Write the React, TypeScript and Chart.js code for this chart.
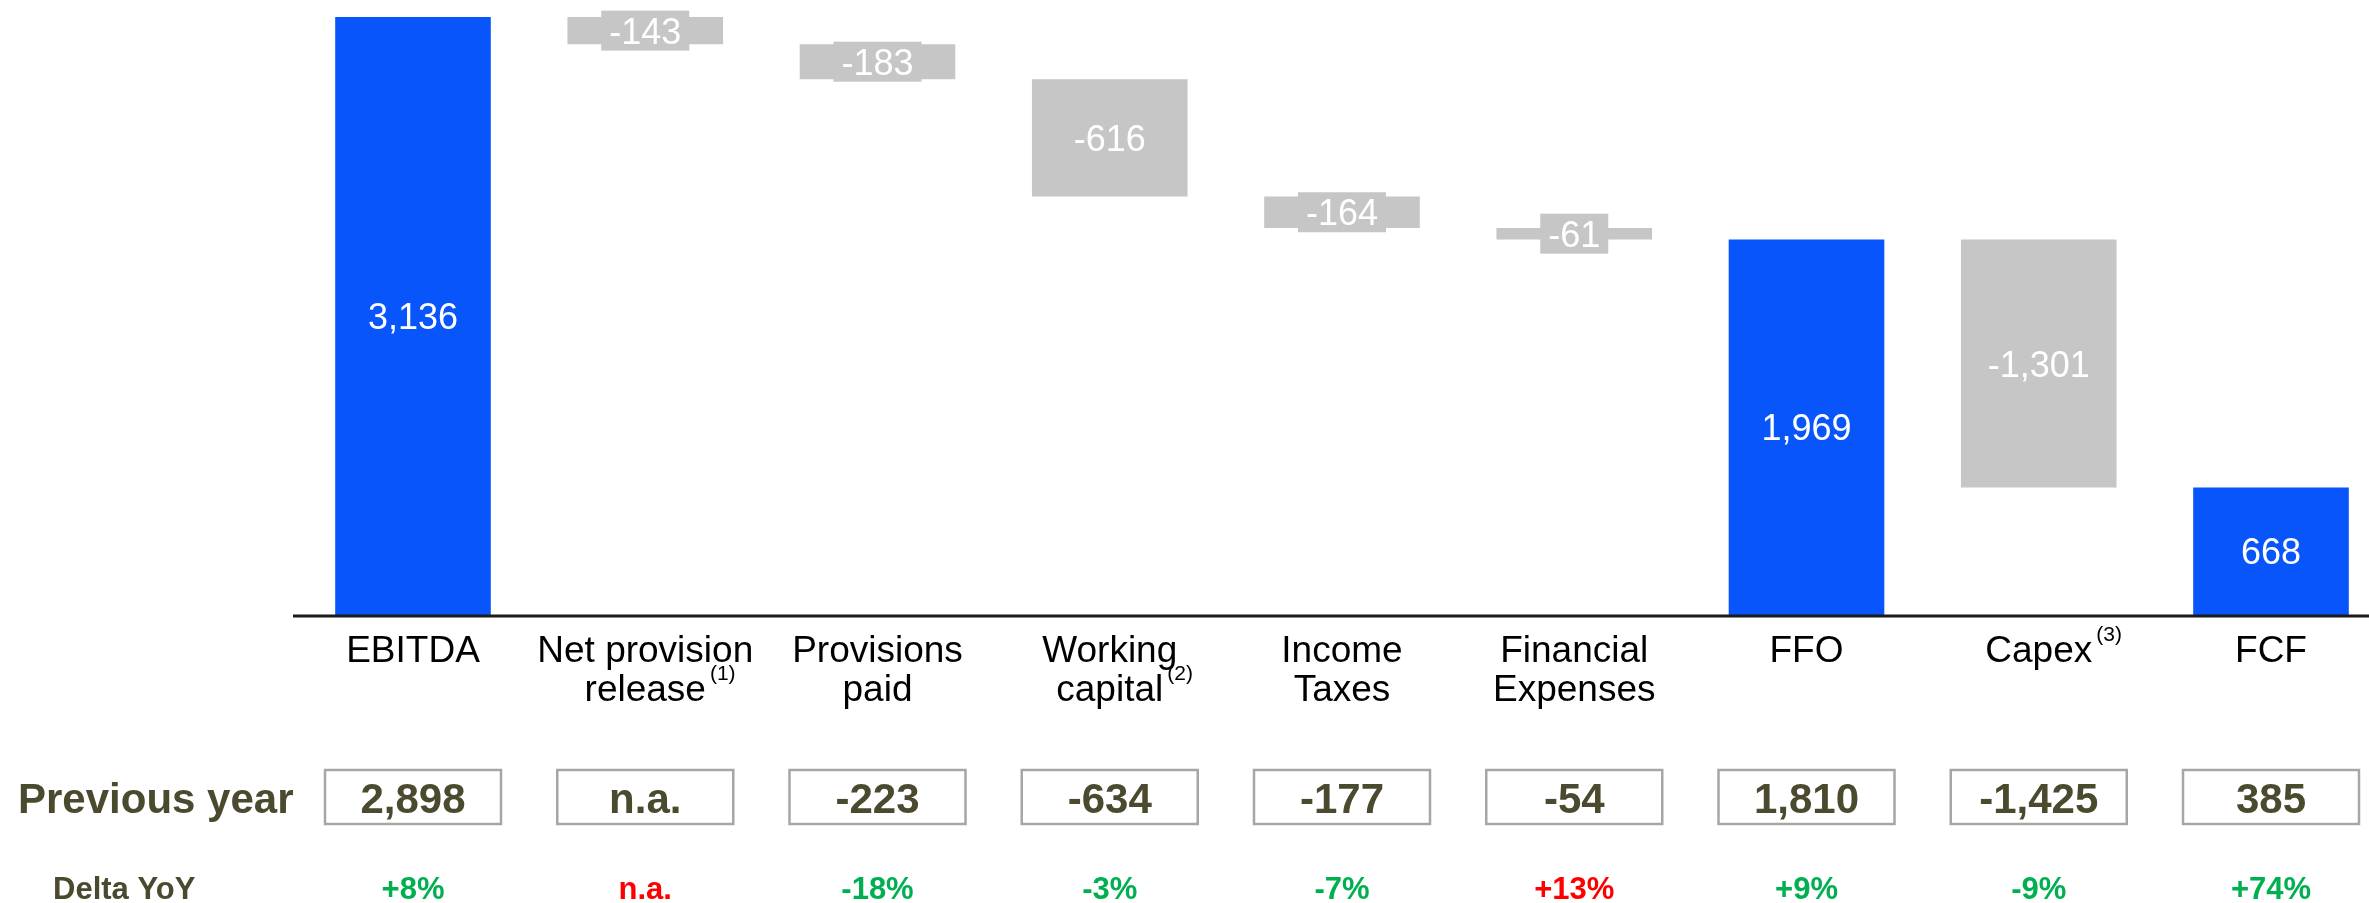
import React, { useEffect, useRef } from "react";
import { Chart, registerables } from "chart.js";

Chart.register(...registerables);

// ---------- data ----------
const categories = [
  "EBITDA",
  "Net provision release",
  "Provisions paid",
  "Working capital",
  "Income Taxes",
  "Financial Expenses",
  "FFO",
  "Capex",
  "FCF",
];
const labelLines = [
  ["EBITDA"],
  ["Net provision", "release"],
  ["Provisions", "paid"],
  ["Working", "capital"],
  ["Income", "Taxes"],
  ["Financial", "Expenses"],
  ["FFO"],
  ["Capex"],
  ["FCF"],
];
const footnotes = ["", "(1)", "", "(2)", "", "", "", "(3)", ""];
const amounts = [3136, -143, -183, -616, -164, -61, 1969, -1301, 668];
const isTotal = [true, false, false, false, false, false, true, false, true];
const previousYear = ["2,898", "n.a.", "-223", "-634", "-177", "-54", "1,810", "-1,425", "385"];
const deltaYoY = ["+8%", "n.a.", "-18%", "-3%", "-7%", "+13%", "+9%", "-9%", "+74%"];
const deltaAdverse = [false, true, false, false, false, true, false, false, false];

// ---------- style ----------
const BLUE = "#0755FB";
const GREY = "#C6C6C6";
const OLIVE = "#4B4A2F";
const GREEN = "#00B050";
const RED = "#FF0000";
const FONT = "'Liberation Sans', Arial, sans-serif";

const W = 2369;
const H = 903;

export default function App() {
  const ref = useRef<HTMLCanvasElement | null>(null);

  useEffect(() => {
    document.body.style.margin = "0";
    const canvas = ref.current;
    if (!canvas) return;

    let running = 0;
    const ranges = amounts.map((v, i) => {
      if (isTotal[i]) {
        running = v;
        return [0, v];
      }
      const start = running;
      running += v;
      return [running, start];
    });

    const decor = {
      id: "decor",
      afterDatasetsDraw(chart: any) {
        const ctx = chart.ctx as CanvasRenderingContext2D;
        const meta = chart.getDatasetMeta(0);
        const area = chart.chartArea;
        ctx.save();
        // bar value labels
        ctx.font = `36px ${FONT}`;
        ctx.textAlign = "center";
        ctx.textBaseline = "alphabetic";
        meta.data.forEach((el: any, i: number) => {
          const txt = amounts[i].toLocaleString("en-US");
          const cx = el.x;
          const cy = (el.y + el.base) / 2;
          if (!isTotal[i]) {
            const tw = ctx.measureText(txt).width;
            ctx.fillStyle = GREY;
            ctx.fillRect(cx - tw / 2 - 8, cy - 20, tw + 16, 40);
          }
          ctx.fillStyle = "#FFFFFF";
          ctx.fillText(txt, cx, cy + 13);
        });

        // baseline
        ctx.strokeStyle = "#1A1A1A";
        ctx.lineWidth = 3;
        ctx.beginPath();
        ctx.moveTo(293, area.bottom + 1);
        ctx.lineTo(W, area.bottom + 1);
        ctx.stroke();

        // category labels with superscripts
        meta.data.forEach((el: any, i: number) => {
          const cx = el.x;
          const lines = labelLines[i];
          lines.forEach((ln, j) => {
            const y = 662 + j * 39;
            ctx.font = `37px ${FONT}`;
            ctx.textAlign = "center";
            ctx.textBaseline = "alphabetic";
            ctx.fillStyle = "#000000";
            ctx.fillText(ln, cx, y);
            if (j === lines.length - 1 && footnotes[i]) {
              const tw = ctx.measureText(ln).width;
              ctx.font = `21px ${FONT}`;
              ctx.textAlign = "left";
              ctx.fillText(footnotes[i], cx + tw / 2 + 4, y - 21);
            }
          });
        });

        // previous year row
        ctx.fillStyle = OLIVE;
        ctx.font = `bold 42px ${FONT}`;
        ctx.textAlign = "left";
        ctx.textBaseline = "alphabetic";
        ctx.fillText("Previous year", 18, 813);
        ctx.font = `bold 31px ${FONT}`;
        ctx.fillText("Delta YoY", 53, 899);

        meta.data.forEach((el: any, i: number) => {
          const cx = el.x;
          const bw = 176;
          ctx.strokeStyle = "#A6A6A6";
          ctx.lineWidth = 2.5;
          ctx.strokeRect(cx - bw / 2, 770, bw, 54);
          ctx.fillStyle = OLIVE;
          ctx.font = `bold 42px ${FONT}`;
          ctx.textAlign = "center";
          ctx.textBaseline = "alphabetic";
          ctx.fillText(previousYear[i], cx, 813);

          ctx.fillStyle = deltaAdverse[i] ? RED : GREEN;
          ctx.font = `bold 31px ${FONT}`;
          ctx.fillText(deltaYoY[i], cx, 899);
        });
        ctx.restore();
      },
    };

    const chart = new Chart(canvas, {
      type: "bar",
      data: {
        labels: categories,
        datasets: [
          {
            data: ranges as any,
            backgroundColor: isTotal.map((t) => (t ? BLUE : GREY)),
            borderWidth: 0,
            barPercentage: 0.67,
            categoryPercentage: 1,
            clip: false as any,
          },
        ],
      },
      options: {
        responsive: false,
        animation: false,
        layout: { padding: { left: 413, right: 98, top: 0, bottom: 288 } },
        plugins: { legend: { display: false }, tooltip: { enabled: false } },
        scales: {
          x: { display: false, offset: false },
          y: { display: false, min: 0, max: 3225 },
        },
      },
      plugins: [decor],
    });

    return () => chart.destroy();
  }, []);

  return (
    <div style={{ width: W, height: H, background: "#FFFFFF" }}>
      <canvas ref={ref} width={W} height={H} style={{ display: "block" }} />
    </div>
  );
}
